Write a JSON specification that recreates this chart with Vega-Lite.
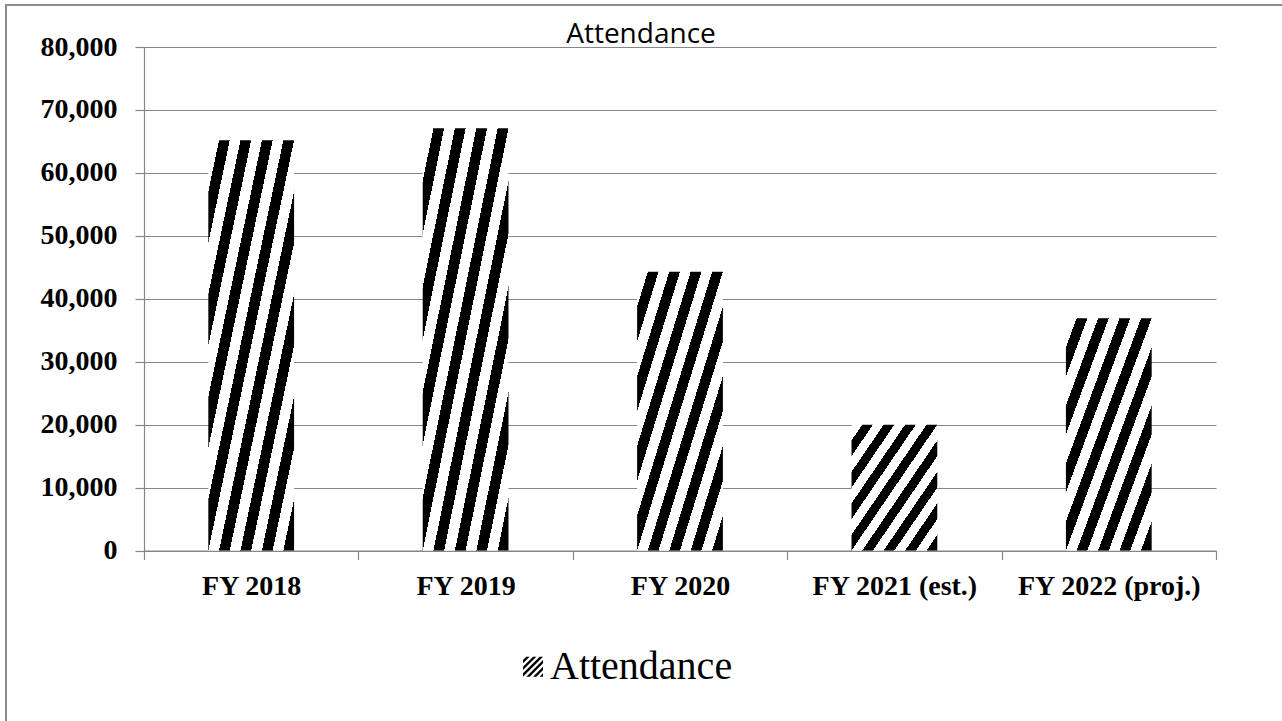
{
  "$schema": "https://vega.github.io/schema/vega-lite/v6.json",
  "autosize": {"type": "none"},
  "padding": {"left": 6, "top": 5, "right": 0, "bottom": 0},
  "width": 1300,
  "height": 730,
  "background": "white",
  "config": {
    "view": {"stroke": "#8c8c8c", "strokeWidth": 2},
    "axis": {
      "domainColor": "#868686",
      "gridColor": "#868686",
      "tickColor": "#868686",
      "domainWidth": 1.2,
      "gridWidth": 1.2,
      "tickWidth": 1.2,
      "labelFont": "Liberation Serif",
      "labelFontWeight": "bold",
      "labelFontSize": 28,
      "labelColor": "#000000",
      "title": null
    }
  },
  "title": {
    "text": "Attendance",
    "font": "Open Sans",
    "fontSize": 28,
    "fontWeight": "normal",
    "color": "#000000",
    "anchor": "middle",
    "orient": "top",
    "baseline": "alphabetic",
    "offset": -37.3,
    "dx": -15,
    "dy": 28.5
  },
  "data": {
    "values": [
      {"year": "FY 2018", "attendance": 65200, "series": "Attendance"},
      {"year": "FY 2019", "attendance": 67100, "series": "Attendance"},
      {"year": "FY 2020", "attendance": 44300, "series": "Attendance"},
      {"year": "FY 2021 (est.)", "attendance": 20000, "series": "Attendance"},
      {"year": "FY 2022 (proj.)", "attendance": 36900, "series": "Attendance"}
    ]
  },
  "mark": {
    "type": "bar",
    "width": {"band": 0.4},
    "fill": {
      "gradient": "linear",
      "x1": 0, "y1": 0, "x2": 1, "y2": 1,
      "stops": [
        {"offset": 0, "color": "#ffffff"}, {"offset": 0.0625, "color": "#ffffff"}, {"offset": 0.0625, "color": "#000000"}, {"offset": 0.125, "color": "#000000"},
        {"offset": 0.125, "color": "#ffffff"}, {"offset": 0.1875, "color": "#ffffff"}, {"offset": 0.1875, "color": "#000000"}, {"offset": 0.25, "color": "#000000"},
        {"offset": 0.25, "color": "#ffffff"}, {"offset": 0.3125, "color": "#ffffff"}, {"offset": 0.3125, "color": "#000000"}, {"offset": 0.375, "color": "#000000"},
        {"offset": 0.375, "color": "#ffffff"}, {"offset": 0.4375, "color": "#ffffff"}, {"offset": 0.4375, "color": "#000000"}, {"offset": 0.5, "color": "#000000"},
        {"offset": 0.5, "color": "#ffffff"}, {"offset": 0.5625, "color": "#ffffff"}, {"offset": 0.5625, "color": "#000000"}, {"offset": 0.625, "color": "#000000"},
        {"offset": 0.625, "color": "#ffffff"}, {"offset": 0.6875, "color": "#ffffff"}, {"offset": 0.6875, "color": "#000000"}, {"offset": 0.75, "color": "#000000"},
        {"offset": 0.75, "color": "#ffffff"}, {"offset": 0.8125, "color": "#ffffff"}, {"offset": 0.8125, "color": "#000000"}, {"offset": 0.875, "color": "#000000"},
        {"offset": 0.875, "color": "#ffffff"}, {"offset": 0.9375, "color": "#ffffff"}, {"offset": 0.9375, "color": "#000000"}, {"offset": 1, "color": "#000000"}
      ]
    }
  },
  "encoding": {
    "x": {
      "field": "year",
      "type": "nominal",
      "sort": null,
      "scale": {"range": [138, 1210], "paddingInner": 0, "paddingOuter": 0},
      "axis": {
        "labelAngle": 0,
        "offset": -184.5,
        "tickBand": "extent",
        "tickSize": 9,
        "labelPadding": 13,
        "labelLimit": 400,
        "grid": false
      }
    },
    "y": {
      "field": "attendance",
      "type": "quantitative",
      "scale": {"domain": [0, 80000], "range": [545.5, 42], "nice": false},
      "axis": {
        "values": [0, 10000, 20000, 30000, 40000, 50000, 60000, 70000, 80000],
        "format": ",.0f",
        "offset": -138,
        "tickSize": 9,
        "labelPadding": 18,
        "grid": true
      }
    },
    "color": {
      "field": "series",
      "type": "nominal",
      "scale": {"domain": ["Attendance"], "range": ["#000000"]},
      "legend": {
        "title": null,
        "orient": "none",
        "legendX": 507,
        "legendY": 641.7,
        "padding": 0,
        "symbolType": "M-1,-0.667L-0.667,-1L-0.333,-1L-1,-0.333Z M-1,0L0,-1L0.333,-1L-1,0.333Z M-1,0.667L0.667,-1L1,-1L-1,1Z M-0.667,1L1,-0.667L1,-0.333L-0.333,1Z M0,1L1,0L1,0.333L0.333,1Z M0.667,1L1,0.667L1,1Z",
        "symbolSize": 400,
        "symbolStrokeWidth": 0,
        "symbolOpacity": 1,
        "symbolFillColor": "#000000",
        "labelFont": "Liberation Serif",
        "labelFontSize": 40,
        "labelFontWeight": "normal",
        "labelColor": "#000000",
        "labelOffset": -3,
        "labelLimit": 400
      }
    }
  }
}
